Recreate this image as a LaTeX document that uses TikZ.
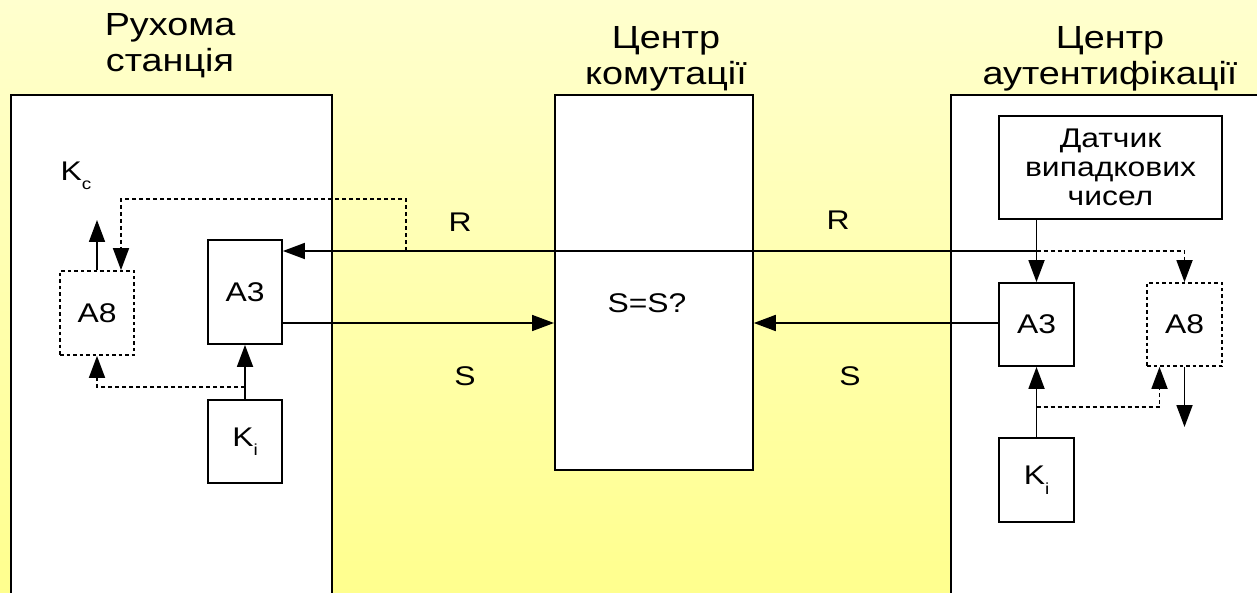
\documentclass[tikz,border=0pt]{standalone}
\usepackage{fontspec}
\setmainfont{Liberation Sans}[FakeStretch=1.18]
\usetikzlibrary{arrows.meta}
\definecolor{bgtop}{RGB}{255,255,206}
\definecolor{bgbot}{RGB}{255,255,142}
\newcommand{\subidx}[1]{\raisebox{-0.35em}{\fontsize{16}{16}\selectfont #1}}
\tikzset{
  blk/.style={draw,fill=white,line width=1.8pt,inner sep=0pt,minimum width=74pt,minimum height=84pt,font=\fontsize{27}{30}\selectfont},
  dblk/.style={blk,dash pattern=on 3.5pt off 3pt},
  big/.style={draw,fill=white,line width=1.8pt,inner sep=0pt,anchor=north west},
  ttl/.style={align=center,font=\fontsize{32}{36}\selectfont},
  lbl/.style={font=\fontsize{27}{30}\selectfont},
  dsh/.style={dash pattern=on 4pt off 3pt},
}
\begin{document}
\begin{tikzpicture}[x=1pt,y=-1pt,>={Triangle[length=22pt,width=16pt]},line width=1.8pt]
\shade[top color=bgtop,bottom color=bgbot] (0,0) rectangle (1257,593);
\useasboundingbox (0,0) rectangle (1257,593);

\node[big,minimum width=321pt,minimum height=530pt] (ms) at (10,94) {};
\node[big,minimum width=198pt,minimum height=375pt] (msc) at (554,94) {};
\node[big,minimum width=330pt,minimum height=530pt] (auc) at (950,94) {};
\node[ttl] (msT) at (170,46) {Рухома\\станція};
\node[ttl] (mscT) at (666,59) {Центр\\комутації};
\node[ttl] (aucT) at (1110,59) {Центр\\аутентифікації};

\node[blk,minimum height=104pt] (lA3) at (245,292) {A3};
\node[dblk] (lA8) at (97,313) {A8};
\node[blk,minimum height=83pt] (lKi) at (245,441.5) {K\subidx{i}};
\node[blk,minimum width=223pt,minimum height=103pt,align=center] (rng) at (1110.5,167.5) {Датчик\\[-1pt]випадкових\\[-1pt]чисел};
\node[blk,minimum width=75pt,minimum height=83pt] (rA3) at (1036.5,324.5) {A3};
\node[dblk,minimum width=75pt,minimum height=83pt] (rA8) at (1184.5,324.5) {A8};
\node[blk,minimum width=75pt] (rKi) at (1036.5,480) {K\subidx{i}};

\node[lbl] (cmp) at (647,303) {S=S?};
\node[lbl] (lR) at (460,222) {R};
\node[lbl] (rR) at (838,220) {R};
\node[lbl] (lS) at (465,376) {S};
\node[lbl] (rS) at (850,376) {S};
\node[lbl] (kc) at (76,176) {K\subidx{c}};

\coordinate (rj) at (rA3.north |- 0,251);
\coordinate (lj) at (406,251);
\coordinate (lk) at (121,199);
\coordinate (kcEnd) at (97,220);
\coordinate (lb) at (245,387);
\coordinate (rb) at (1036.5,407);
\coordinate (rOut) at (1184.5,427);
\coordinate (sl) at (0,323);

\draw[->] (rng.south -| rA3.north) -- (rA3.north);
\draw[->] (rj) -- (lA3.east |- rj);
\draw[dsh,->] (rj) -| (rA8.north);
\draw[dsh,->] (lj) |- (lk) -- (lk |- lA8.north);
\draw[->] (lA8.north) -- (kcEnd);
\draw[->] (lKi) -- (lA3);
\draw[dsh,->] (lb) -| (lA8.south);
\draw[->] (lA3.east |- sl) -- (msc.west |- sl);
\draw[->] (rA3.west |- sl) -- (msc.east |- sl);
\draw[->] (rKi) -- (rA3);
\draw[dsh,->] (rb) -| ([xshift=-25pt]rA8.south);
\draw[->] (rA8.south) -- (rOut);
\end{tikzpicture}
\end{document}
